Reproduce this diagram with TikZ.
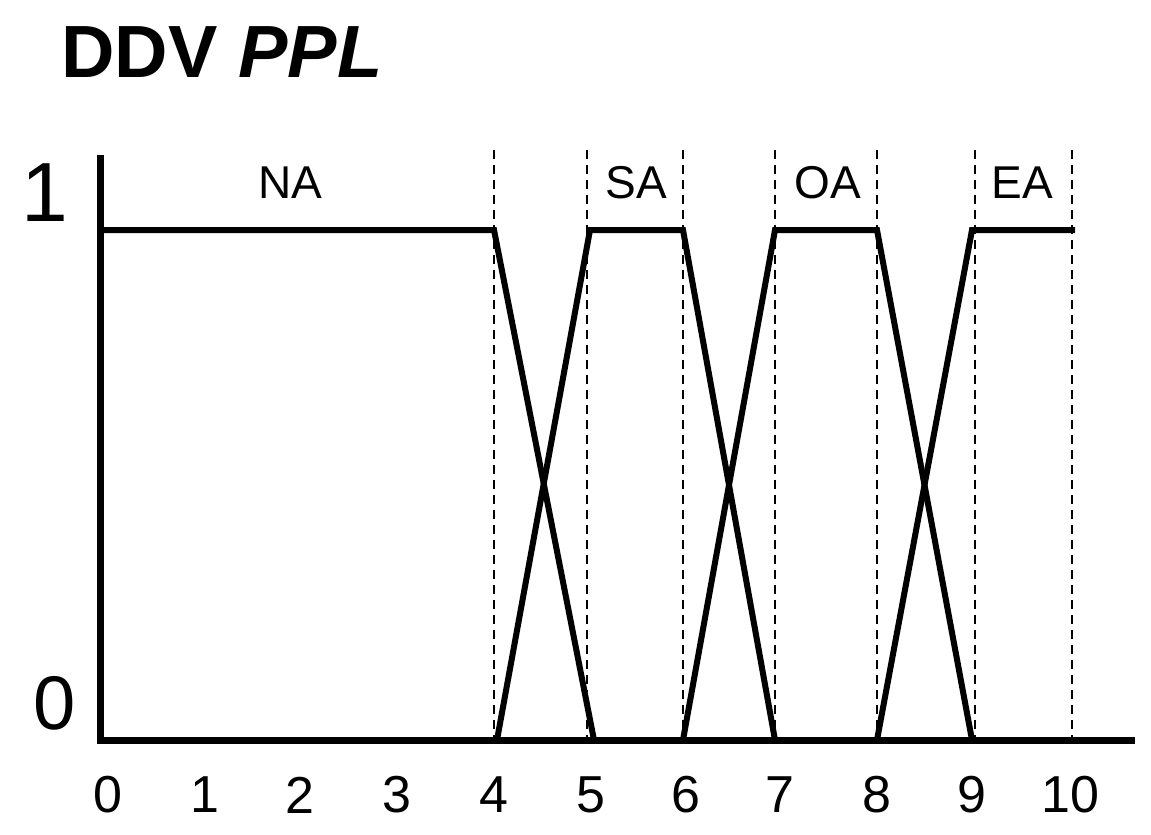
\documentclass[tikz,border=0pt]{standalone}
\usepackage{fontspec}
\setmainfont{Liberation Sans}
\begin{document}
\begin{tikzpicture}[x=1pt,y=-1pt,
  mf/.style={line width=6pt,line join=miter},
  ax/.style={line width=7pt},
  dsh/.style={line width=1.8pt,dash pattern=on 9pt off 6pt},
  lab/.style={font=\fontsize{46}{46}\selectfont},
  tick/.style={font=\fontsize{52}{52}\selectfont}]
\useasboundingbox (0,0) rectangle (1151,835);
\node[anchor=west,font=\bfseries\fontsize{74}{74}\selectfont] (title) at (58,52) {DDV \textit{PPL}};
% dashed
\foreach \x in {494,587,683,775,877,975,1072} \draw[dsh] (\x,150) -- (\x,740);
% membership functions
\draw[mf] (100,230) -- (494,230) -- (594,740);
\draw[mf] (497,740) -- (590,230) -- (683,230) -- (775,740);
\draw[mf] (683,740) -- (775,230) -- (877,230) -- (972,740);
\draw[mf] (877,740) -- (972,230) -- (1075,230);
% axes
\draw[ax] (100,155) -- (100,740);
\draw[ax] (97,740) -- (1135,740);
\node[font=\fontsize{84}{84}\selectfont] (one) at (45,193) {1};
\node[font=\fontsize{76}{76}\selectfont] (zero) at (55,703) {0};
\node[lab] (na) at (290,183) {NA};
\node[lab] (sa) at (636,183) {SA};
\node[lab] (oa) at (828,183) {OA};
\node[lab] (ea) at (1022,183) {EA};
\foreach \x/\t in {108/0,205/1,300/2,397/3,494/4,591/5,686/6,780/7,877/8,972/9,1070/10}
  \node[tick] (t\t) at (\x,795) {\t};
\end{tikzpicture}
\end{document}
